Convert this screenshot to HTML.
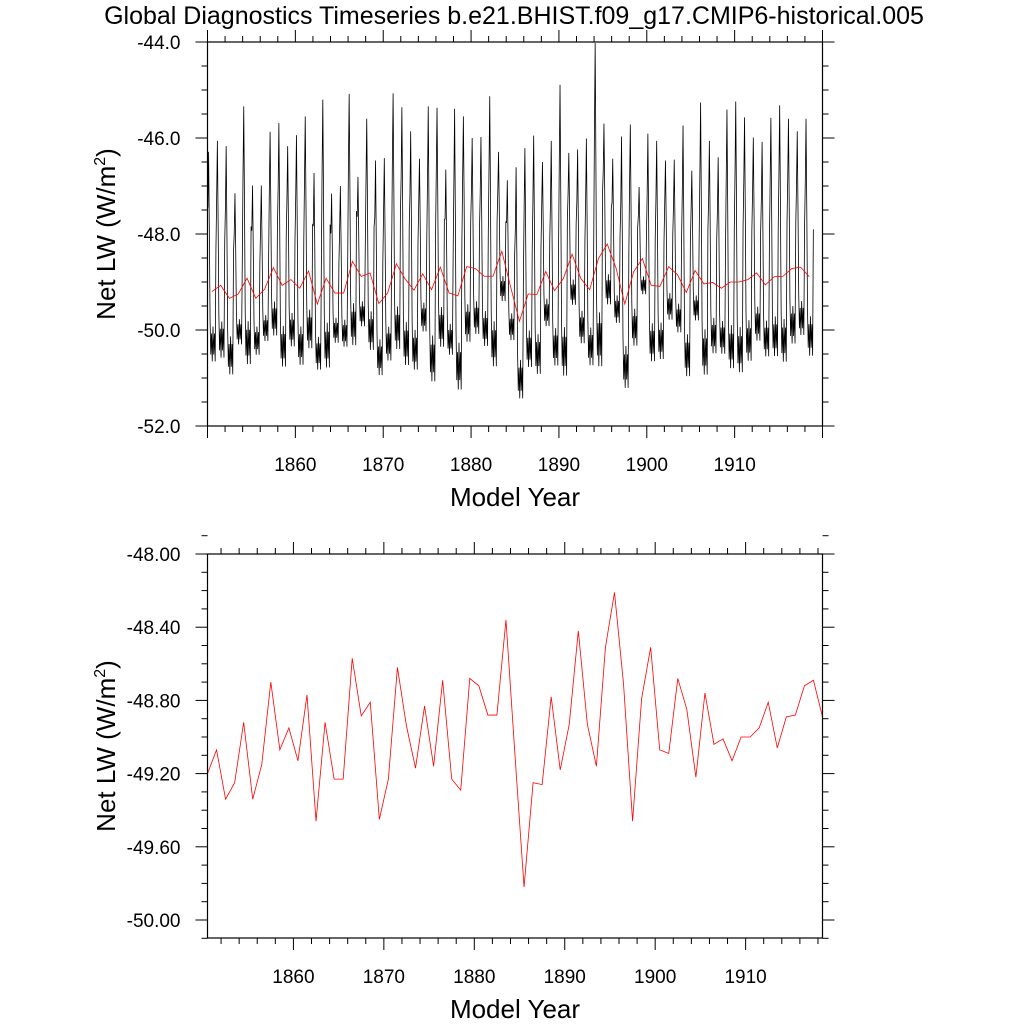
<!DOCTYPE html>
<html><head><meta charset="utf-8"><style>
html,body{margin:0;padding:0;background:#fff;}
svg{display:block;font-family:"Liberation Sans",Arial,sans-serif;}
</style></head><body>
<svg id="chart" width="1024" height="1024" viewBox="0 0 1024 1024" xmlns="http://www.w3.org/2000/svg">
<text x="514" y="24" font-size="25" text-anchor="middle">Global Diagnostics Timeseries b.e21.BHIST.f09_g17.CMIP6-historical.005</text>
</svg>
<script>
// ---- data ----
const years = [];
for (let y = 1850; y <= 1918; y++) years.push(y);
const annualMean = [-49.20,-49.07,-49.34,-49.25,-48.92,-49.34,-49.15,-48.70,-49.07,-48.95,-49.13,-48.77,-49.46,-48.92,-49.23,-49.23,-48.57,-48.885,-48.81,-49.45,-49.23,-48.62,-48.94,-49.17,-48.83,-49.16,-48.69,-49.23,-49.29,-48.68,-48.72,-48.88,-48.88,-48.36,-49.10,-49.82,-49.25,-49.26,-48.78,-49.18,-48.93,-48.42,-48.93,-49.16,-48.51,-48.21,-48.71,-49.46,-48.79,-48.51,-49.07,-49.09,-48.68,-48.85,-49.22,-48.76,-49.04,-49.01,-49.13,-49.00,-49.00,-48.95,-48.81,-49.06,-48.89,-48.88,-48.72,-48.69,-48.89];
const annualPeak = [-46.29,-46.06,-46.17,-47.15,-45.34,-46.99,-46.99,-45.87,-45.69,-46.17,-45.94,-45.55,-46.73,-45.20,-47.16,-47.00,-45.08,-46.81,-45.60,-46.47,-46.42,-45.07,-45.36,-45.86,-46.43,-45.34,-45.37,-46.66,-45.39,-45.55,-46.00,-45.98,-45.13,-46.29,-46.88,-46.61,-46.21,-45.95,-46.50,-46.06,-44.89,-46.31,-46.24,-46.01,-44.02,-45.70,-46.43,-45.97,-45.72,-47.02,-45.91,-46.06,-46.47,-46.45,-45.74,-46.68,-45.26,-46.06,-46.40,-45.41,-45.24,-45.57,-45.99,-46.08,-45.58,-45.32,-45.60,-45.86,-45.60];
const monthShape = [0.6,1.0,0.45,-0.2,-0.45,-0.3,-0.5,-0.25,-0.45,-0.3,-0.5,0.3];
const topYTicks = [-44,-46,-48,-50,-52];
const botYTicks = [-48,-48.4,-48.8,-49.2,-49.6,-50];
const xTicks = [1860,1870,1880,1890,1900,1910];

const svg = document.getElementById('chart');
const NS = 'http://www.w3.org/2000/svg';
function mk(tag, attrs, parent){const e=document.createElementNS(NS,tag);for(const k in attrs)e.setAttribute(k,attrs[k]);(parent||svg).appendChild(e);return e;}
function lin(d0,d1,r0,r1){return v=>r0+(v-d0)*(r1-r0)/(d1-d0);}

function panel(cfg){
  const g = mk('g',{});
  
  
  const {L,R,T,B} = cfg;
  const xs = cfg.xs, ys = cfg.ys;
  cfg.draw(g, xs, ys);
  const fr = mk('rect',{x:L,y:T,width:R-L,height:B-T,fill:'none',stroke:'#000','stroke-width':1.2},g);
  
  
  for (let v = cfg.yMin; v <= cfg.yMax + 1e-9; v += cfg.yMinor) {
    const y = ys(v);
    const isMaj = cfg.yTicks.some(t => Math.abs(t - v) < 1e-6);
    const len = isMaj ? 12 : 6;
    mk('line',{x1:L,x2:L-len,y1:y,y2:y,stroke:'#000','stroke-width':1},g);
    mk('line',{x1:R,x2:R+len,y1:y,y2:y,stroke:'#000','stroke-width':1},g);
  }
  cfg.yTicks.forEach(v=>{
    const t = mk('text',{x:L-27,y:ys(v)+7,'font-size':19,'text-anchor':'end'},g);
    t.textContent = v.toFixed(cfg.dec);
    
    
  });
  for (let yr = 1850; yr <= 1920; yr += 2) {
    const x = xs(yr);
    if (x < L - 0.5 || x > R + 0.5) continue;
    const len = (yr % 10 === 0) ? 12 : 6;
    mk('line',{x1:x,x2:x,y1:B,y2:B+len,stroke:'#000','stroke-width':1},g);
    mk('line',{x1:x,x2:x,y1:T,y2:T-len,stroke:'#000','stroke-width':1},g);
  }
  xTicks.forEach(v=>{
    const t = mk('text',{x:xs(v),y:B+45,'font-size':19,'text-anchor':'middle'},g);
    t.textContent = v;
    
    
  });
  const xt = mk('text',{x:(L+R)/2,y:B+80,'font-size':26,'text-anchor':'middle'},g);
  xt.textContent = 'Model Year';
  
  
  const cy = (T+B)/2;
  const yt = mk('text',{x:115,y:cy,'font-size':26,'text-anchor':'middle',transform:`rotate(-90 115 ${cy})`},g);
  yt.innerHTML = 'Net LW (W/m<tspan dy="-10" font-size="16">2</tspan><tspan dy="10">)</tspan>';
  
  
}

const tL=207.5,tR=822.5,tT=42,tB=426;
panel({name:'monthly-panel',L:tL,R:tR,T:tT,B:tB,
  xs:lin(1850,1920,tL,tR), ys:lin(-44,-52,tT,tB),
  yMin:-52,yMax:-44,yMinor:0.5,yTicks:topYTicks,dec:1,
  draw:(g,xs,ys)=>{
    let pts=[];
    years.forEach((yr,i)=>{
      monthShape.forEach((s,m)=>{
        const v = annualMean[i] + (annualPeak[i]-annualMean[i])*s;
        pts.push(xs(yr+(m+0.5)/12).toFixed(2)+','+ys(v).toFixed(2));
      });
    });
    const pl = mk('polyline',{points:pts.join(' '),fill:'none',stroke:'#000','stroke-width':0.8},g);
    
    
    const p2 = years.map((yr,i)=>xs(yr+0.5).toFixed(2)+','+ys(annualMean[i]).toFixed(2));
    const rl = mk('polyline',{points:p2.join(' '),fill:'none',stroke:'#ff0000','stroke-width':0.8},g);
    
    
  }});

const bL=207.5,bR=822.5,bT=554,bB=938;
panel({name:'annual-panel',L:bL,R:bR,T:bT,B:bB,
  xs:lin(1850.5,1918.5,bL,bR), ys:lin(-48,-50,554,920),
  yMin:-50.1,yMax:-47.9,yMinor:0.1,yTicks:botYTicks,dec:2,
  draw:(g,xs,ys)=>{
    const p2 = years.map((yr,i)=>xs(yr+0.5).toFixed(2)+','+ys(annualMean[i]).toFixed(2));
    const rl = mk('polyline',{points:p2.join(' '),fill:'none',stroke:'#ff0000','stroke-width':0.8},g);
    
    
  }});
</script>
</body></html>
